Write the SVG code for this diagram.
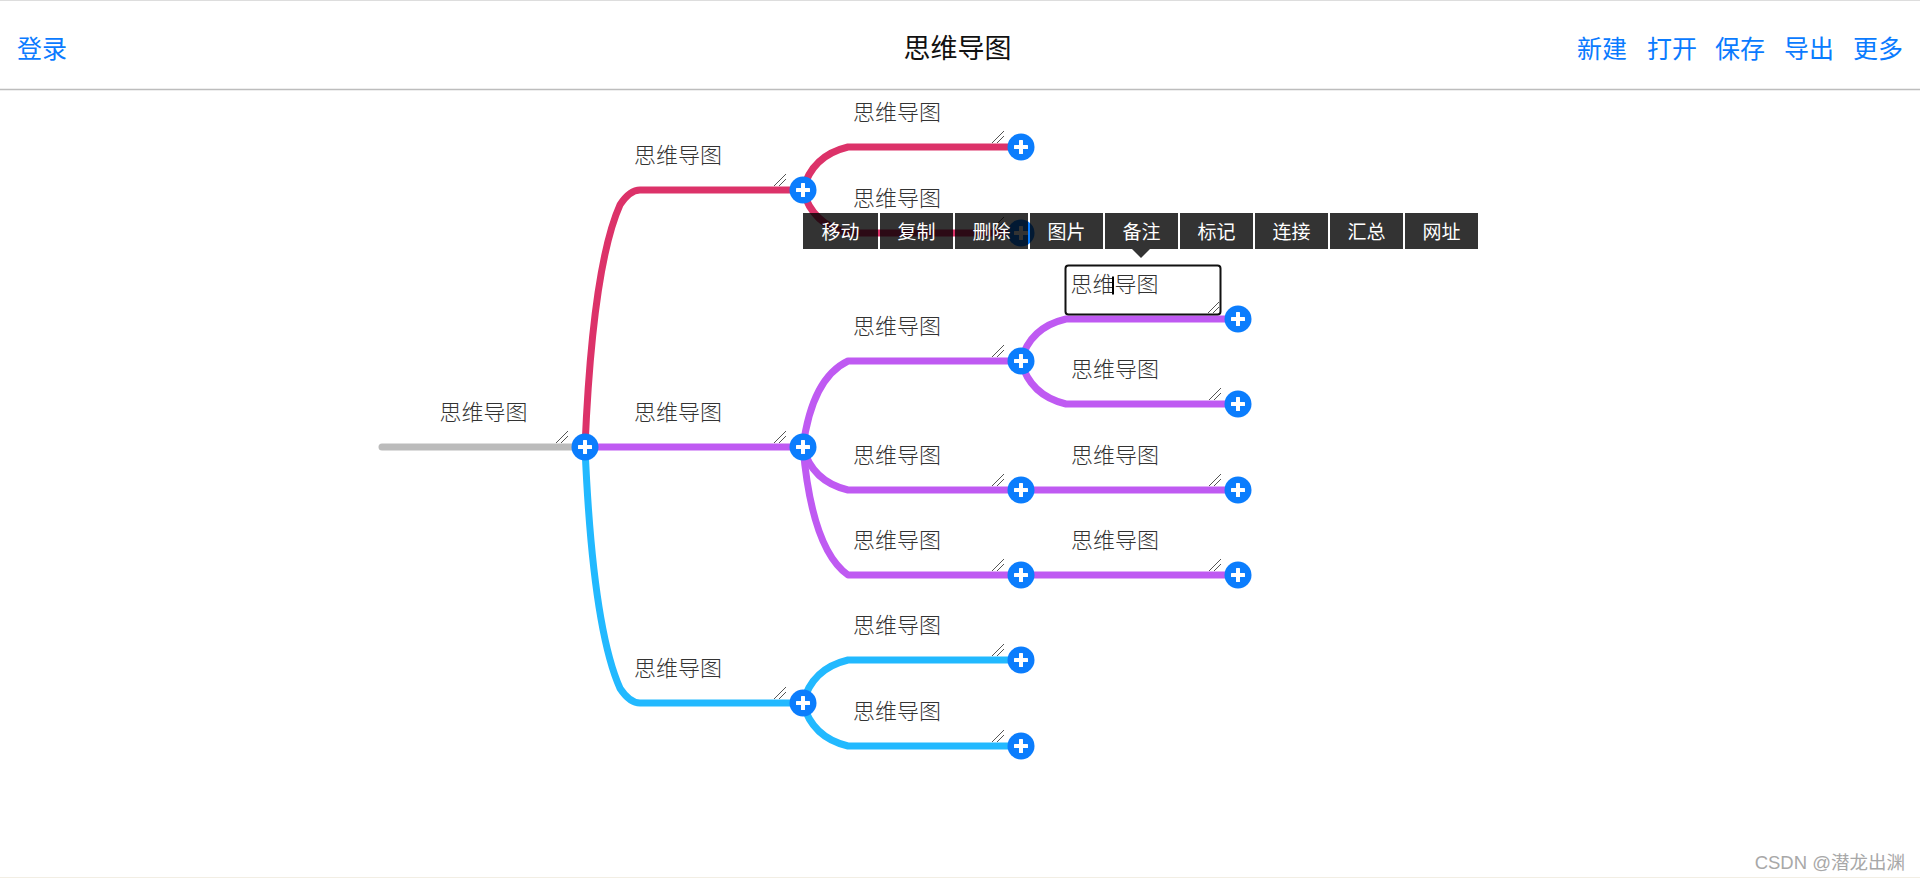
<svg xmlns="http://www.w3.org/2000/svg" xmlns:xlink="http://www.w3.org/1999/xlink" width="1920" height="881" viewBox="0 0 1920 881">
<style>
  .hdr-link { font-family: "Noto Sans CJK SC", "Liberation Sans", sans-serif; font-size: 25px; fill: #0a7bff; }
  .hdr-title { font-family: "Noto Sans CJK SC", "Liberation Sans", sans-serif; font-size: 27px; fill: #111; }
  .lbl { font-family: "Noto Sans CJK SC", "Liberation Sans", sans-serif; font-size: 22px; font-weight: 300; fill: #333; }
  .ln { fill: none; stroke-width: 7; stroke-linecap: round; stroke-linejoin: round; }
  .red { stroke: #dc3269; }
  .pur { stroke: #bf5af2; }
  .blu { stroke: #22b9ff; }
  .gry { stroke: #bbbbbb; }
  .grip line { stroke: #555; stroke-width: 1; }
  .tb-btn { fill: #000; fill-opacity: 0.8; }
  .tb-txt { font-family: "Noto Sans CJK SC", "Liberation Sans", sans-serif; font-size: 19px; fill: #fff; text-anchor: middle; }
  .wm { font-family: "Liberation Sans", "Noto Sans CJK SC", sans-serif; font-size: 18.5px; fill: #a8a8a8; text-anchor: end; }
</style>
<defs>
  <g id="plus">
    <circle cx="0" cy="0" r="13.5" fill="#0b7dfd"/>
    <rect x="-7" y="-2" width="14" height="4" fill="#fff" rx="0.5"/>
    <rect x="-2" y="-7" width="4" height="14" fill="#fff" rx="0.5"/>
  </g>
  <g id="grip" class="grip">
    <line x1="-29" y1="-4" x2="-17" y2="-16"/>
    <line x1="-24" y1="-4" x2="-17" y2="-11"/>
  </g>
</defs>
<rect x="0" y="0" width="1920" height="881" fill="#fff"/>

<g id="header">
  <line x1="0" y1="0.5" x2="1920" y2="0.5" stroke="#dddddd" stroke-width="1"/>
  <line x1="0" y1="89.5" x2="1920" y2="89.5" stroke="#bdbdbd" stroke-width="1.5"/>
  <text class="hdr-link" x="17" y="57.5">登录</text>
  <text class="hdr-title" x="957.5" y="58.3" text-anchor="middle">思维导图</text>
  <text class="hdr-link" x="1577" y="57.5">新建</text>
  <text class="hdr-link" x="1647" y="57.5">打开</text>
  <text class="hdr-link" x="1715" y="57.5">保存</text>
  <text class="hdr-link" x="1784" y="57.5">导出</text>
  <text class="hdr-link" x="1853" y="57.5">更多</text>
</g>

<g id="connectors">
  <path class="ln gry" d="M382,447 L585,447"/>
  <path class="ln red" d="M585,447 Q592.6,266.1 620.1,204.6 Q629.9,190 640,190 L803,190"/>
  <path class="ln pur" d="M585,447 L803,447"/>
  <path class="ln blu" d="M585,447 Q592.6,627.2 620.1,688.5 Q629.8,703 640,703 L803,703"/>
  <path class="ln red" d="M803,190 Q812,155.6 848,147 L1021,147"/>
  <path class="ln red" d="M803,190 Q812,224.4 848,233 L1021,233"/>
  <path class="ln pur" d="M803,447 Q812,378.2 848,361 L1021,361"/>
  <path class="ln pur" d="M803,447 Q812,481.4 848,490 L1021,490"/>
  <path class="ln pur" d="M803,447 Q812,549.4 848,575 L1021,575"/>
  <path class="ln blu" d="M803,703 Q812,668.6 848,660 L1021,660"/>
  <path class="ln blu" d="M803,703 Q812,737.4 848,746 L1021,746"/>
  <path class="ln pur" d="M1021,361 Q1030,327.4 1066,319 L1238,319"/>
  <path class="ln pur" d="M1021,361 Q1030,395.4 1066,404 L1238,404"/>
  <path class="ln pur" d="M1021,490 L1238,490"/>
  <path class="ln pur" d="M1021,575 L1238,575"/>
</g>

<g id="node-root">
  <text class="lbl" x="483.5" y="420" text-anchor="middle">思维导图</text>
  <use xlink:href="#grip" href="#grip" x="585" y="447"/>
  <use xlink:href="#plus" href="#plus" x="585" y="447"/>
</g>
<g id="node-red">
  <text class="lbl" x="634" y="163">思维导图</text>
  <use href="#grip" x="803" y="190"/>
  <use href="#plus" x="803" y="190"/>
</g>
<g id="node-purple">
  <text class="lbl" x="634" y="420">思维导图</text>
  <use href="#grip" x="803" y="447"/>
  <use href="#plus" x="803" y="447"/>
</g>
<g id="node-blue">
  <text class="lbl" x="634" y="676">思维导图</text>
  <use href="#grip" x="803" y="703"/>
  <use href="#plus" x="803" y="703"/>
</g>
<g id="node-red-1">
  <text class="lbl" x="853" y="120">思维导图</text>
  <use href="#grip" x="1021" y="147"/>
  <use href="#plus" x="1021" y="147"/>
</g>
<g id="node-red-2">
  <text class="lbl" x="853" y="206">思维导图</text>
  <use href="#grip" x="1021" y="233"/>
  <use href="#plus" x="1021" y="233"/>
</g>
<g id="node-purple-1">
  <text class="lbl" x="853" y="334">思维导图</text>
  <use href="#grip" x="1021" y="361"/>
  <use href="#plus" x="1021" y="361"/>
</g>
<g id="node-purple-2">
  <text class="lbl" x="853" y="463">思维导图</text>
  <use href="#grip" x="1021" y="490"/>
  <use href="#plus" x="1021" y="490"/>
</g>
<g id="node-purple-3">
  <text class="lbl" x="853" y="548">思维导图</text>
  <use href="#grip" x="1021" y="575"/>
  <use href="#plus" x="1021" y="575"/>
</g>
<g id="node-blue-1">
  <text class="lbl" x="853" y="633">思维导图</text>
  <use href="#grip" x="1021" y="660"/>
  <use href="#plus" x="1021" y="660"/>
</g>
<g id="node-blue-2">
  <text class="lbl" x="853" y="719">思维导图</text>
  <use href="#grip" x="1021" y="746"/>
  <use href="#plus" x="1021" y="746"/>
</g>
<g id="node-purple-1-1">
  <rect x="1065.5" y="265.5" width="155" height="49" rx="3" fill="#fff" stroke="#111" stroke-width="2"/>
  <text class="lbl" x="1070.5" y="292">思维导图</text>
  <line x1="1113" y1="276.5" x2="1113" y2="294.5" stroke="#000" stroke-width="2"/>
  <g class="grip">
    <line x1="1208" y1="313" x2="1219" y2="302"/>
    <line x1="1213" y1="313" x2="1219" y2="307"/>
  </g>
  <use href="#plus" x="1238" y="319"/>
</g>
<g id="node-purple-1-2">
  <text class="lbl" x="1071" y="377">思维导图</text>
  <use href="#grip" x="1238" y="404"/>
  <use href="#plus" x="1238" y="404"/>
</g>
<g id="node-purple-2-1">
  <text class="lbl" x="1071" y="463">思维导图</text>
  <use href="#grip" x="1238" y="490"/>
  <use href="#plus" x="1238" y="490"/>
</g>
<g id="node-purple-3-1">
  <text class="lbl" x="1071" y="548">思维导图</text>
  <use href="#grip" x="1238" y="575"/>
  <use href="#plus" x="1238" y="575"/>
</g>

<g id="toolbar">
  <rect class="tb-btn" x="803" y="213" width="75" height="36"/>
  <rect class="tb-btn" x="880" y="213" width="73" height="36"/>
  <rect class="tb-btn" x="955" y="213" width="73" height="36"/>
  <rect class="tb-btn" x="1030" y="213" width="73" height="36"/>
  <rect class="tb-btn" x="1105" y="213" width="73" height="36"/>
  <rect class="tb-btn" x="1180" y="213" width="73" height="36"/>
  <rect class="tb-btn" x="1255" y="213" width="73" height="36"/>
  <rect class="tb-btn" x="1330" y="213" width="73" height="36"/>
  <rect class="tb-btn" x="1405" y="213" width="73" height="36"/>
  <polygon class="tb-btn" points="1132,249 1150,249 1141,258"/>
  <text class="tb-txt" x="840.5" y="238.5">移动</text>
  <text class="tb-txt" x="916.5" y="238.5">复制</text>
  <text class="tb-txt" x="991.5" y="238.5">删除</text>
  <text class="tb-txt" x="1066.5" y="238.5">图片</text>
  <text class="tb-txt" x="1141.5" y="238.5">备注</text>
  <text class="tb-txt" x="1216.5" y="238.5">标记</text>
  <text class="tb-txt" x="1291.5" y="238.5">连接</text>
  <text class="tb-txt" x="1366.5" y="238.5">汇总</text>
  <text class="tb-txt" x="1441.5" y="238.5">网址</text>
</g>

<g id="watermark">
  <line x1="0" y1="877.5" x2="1920" y2="877.5" stroke="#f2eee4" stroke-width="1"/>
  <text class="wm" x="1905" y="869">CSDN @潜龙出渊</text>
</g>
</svg>
